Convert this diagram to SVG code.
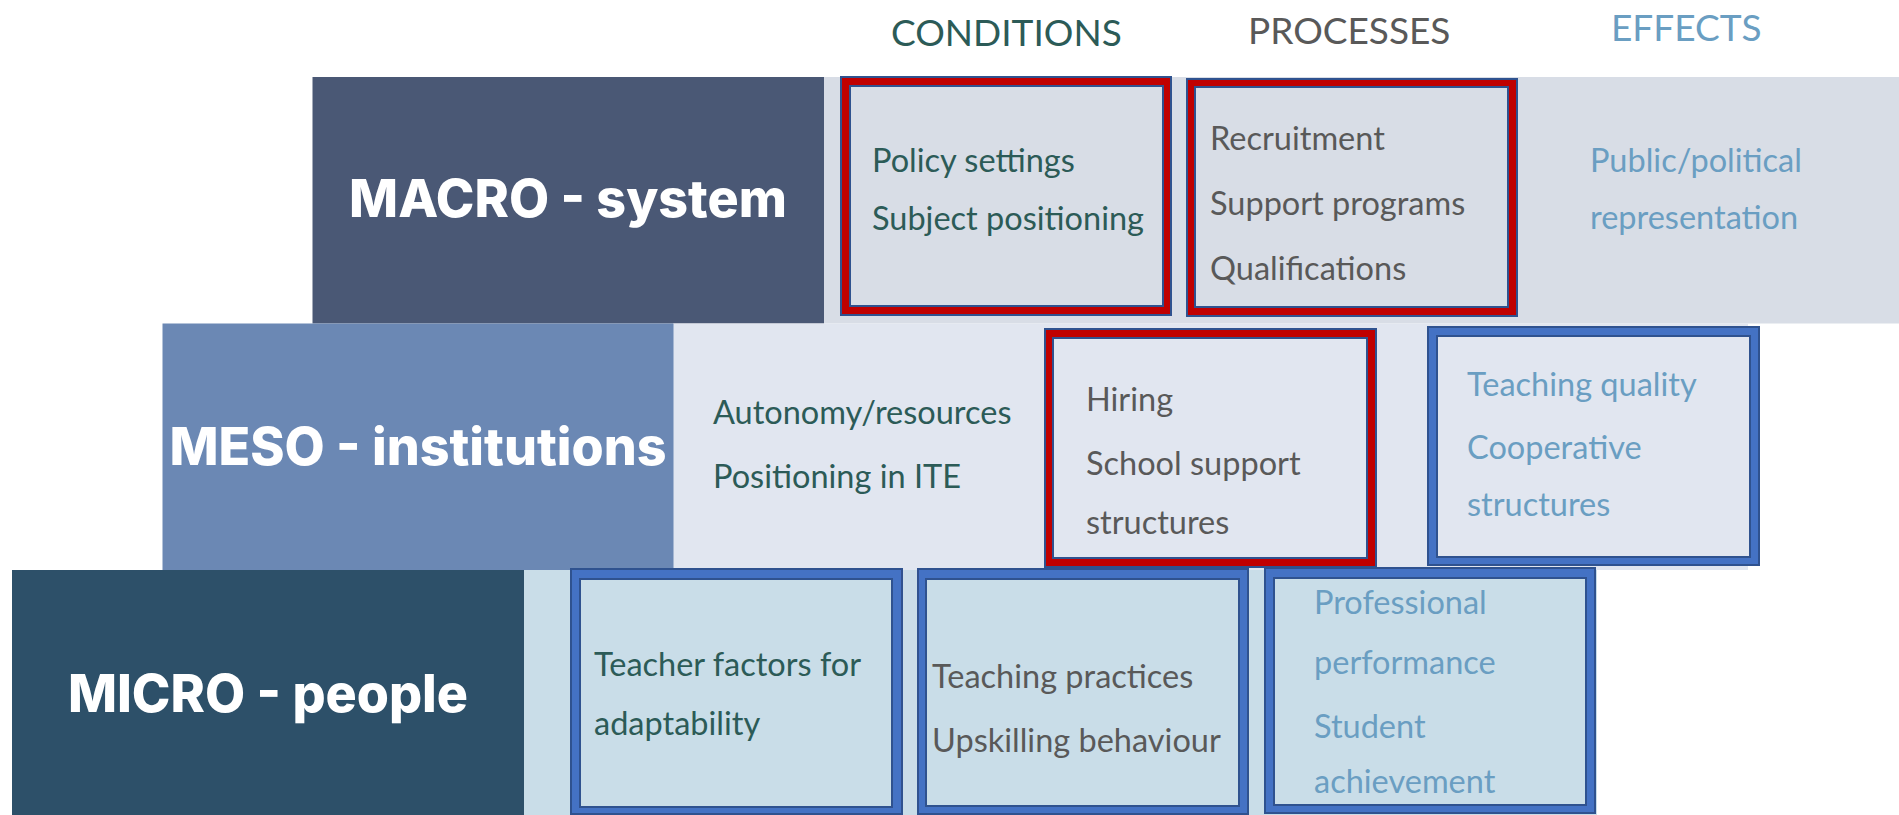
<svg xmlns="http://www.w3.org/2000/svg" width="1899" height="815" viewBox="0 0 1899 815">
  <style>
    .level { font-family: Inter, "Open Sans", "DejaVu Sans", sans-serif; font-weight: 800; font-size: 52px; fill: #ffffff; text-anchor: middle; }
    .head { font-family: Lato, "Liberation Sans", sans-serif; font-weight: 400; font-size: 37px; }
    .item { font-family: Lato, "Liberation Sans", sans-serif; font-weight: 400; font-size: 32.5px; }
    .cond { fill: #2c5b57; }
    .proc { fill: #595959; }
    .eff { fill: #6a9ec2; }
    .edge { fill: none; stroke: #2f528f; stroke-width: 2; }
    .red { fill: #c00000; }
    .blue { fill: #4472c4; }
    .macro-bg { fill: #d8dde6; }
    .meso-bg { fill: #e1e6f0; }
    .micro-bg { fill: #c9dde8; }
  </style>

  <rect x="0" y="0" width="1899" height="815" fill="#ffffff"/>

  <!-- column headings -->
  <g id="headings">
    <text class="head cond" x="891" y="46">CONDITIONS</text>
    <text class="head proc" x="1248" y="44">PROCESSES</text>
    <text class="head eff" x="1611" y="41">EFFECTS</text>
  </g>

  <!-- level bands -->
  <g id="macro">
    <rect class="macro-bg" x="824" y="77" width="1075" height="246.5"/>
    <rect x="312.5" y="77" width="511.5" height="246.5" fill="#4a5875"/>
    <text class="level" x="568" y="217">MACRO - system</text>
  </g>
  <g id="meso">
    <rect class="meso-bg" x="673" y="323.5" width="1075" height="246.5"/>
    <rect x="162.5" y="323.5" width="511" height="246.5" fill="#6b88b4"/>
    <text class="level" x="418" y="465">MESO - institutions</text>
  </g>
  <g id="micro">
    <rect class="micro-bg" x="523" y="570" width="1074" height="245"/>
    <rect x="12" y="570" width="512" height="245" fill="#2d5069"/>
    <text class="level" x="268" y="712">MICRO - people</text>
  </g>

  <!-- MACRO boxes -->
  <g id="macro-conditions">
    <rect class="red" x="841" y="77" width="330" height="238"/>
    <rect class="edge" x="841" y="77" width="330" height="238"/>
    <rect class="macro-bg" x="850" y="86" width="313" height="220"/>
    <rect class="edge" x="850" y="86" width="313" height="220"/>
    <text class="item cond" x="872" y="172">Policy settings</text>
    <text class="item cond" x="872" y="230">Subject positioning</text>
  </g>
  <g id="macro-processes">
    <rect class="red" x="1187" y="79" width="330" height="237"/>
    <rect class="edge" x="1187" y="79" width="330" height="237"/>
    <rect class="macro-bg" x="1195" y="87" width="313" height="220"/>
    <rect class="edge" x="1195" y="87" width="313" height="220"/>
    <text class="item proc" x="1210" y="150">Recruitment</text>
    <text class="item proc" x="1210" y="215">Support programs</text>
    <text class="item proc" x="1210" y="280">Qualifications</text>
  </g>
  <g id="macro-effects">
    <text class="item eff" x="1590" y="172">Public/political</text>
    <text class="item eff" x="1590" y="229">representation</text>
  </g>

  <!-- MESO boxes -->
  <g id="meso-conditions">
    <text class="item cond" x="713" y="424">Autonomy/resources</text>
    <text class="item cond" x="713" y="488">Positioning in ITE</text>
  </g>
  <g id="meso-processes">
    <rect class="red" x="1045" y="329" width="331" height="238"/>
    <rect class="edge" x="1045" y="329" width="331" height="238"/>
    <rect class="meso-bg" x="1053" y="338" width="314" height="220"/>
    <rect class="edge" x="1053" y="338" width="314" height="220"/>
    <text class="item proc" x="1086" y="411">Hiring</text>
    <text class="item proc" x="1086" y="475">School support</text>
    <text class="item proc" x="1086" y="534">structures</text>
  </g>
  <g id="meso-effects">
    <rect class="blue" x="1428" y="327" width="331" height="238"/>
    <rect class="edge" x="1428" y="327" width="331" height="238"/>
    <rect class="meso-bg" x="1437" y="336" width="313" height="221"/>
    <rect class="edge" x="1437" y="336" width="313" height="221"/>
    <text class="item eff" x="1467" y="396">Teaching quality</text>
    <text class="item eff" x="1467" y="459">Cooperative</text>
    <text class="item eff" x="1467" y="516">structures</text>
  </g>

  <!-- MICRO boxes -->
  <g id="micro-conditions">
    <rect class="blue" x="571" y="569" width="331" height="245"/>
    <rect class="edge" x="571" y="569" width="331" height="245"/>
    <rect class="micro-bg" x="580" y="579" width="312" height="228"/>
    <rect class="edge" x="580" y="579" width="312" height="228"/>
    <text class="item cond" x="594" y="676">Teacher factors for</text>
    <text class="item cond" x="594" y="735">adaptability</text>
  </g>
  <g id="micro-processes">
    <rect class="blue" x="918" y="569" width="330" height="245"/>
    <rect class="edge" x="918" y="569" width="330" height="245"/>
    <rect class="micro-bg" x="926" y="579" width="313" height="227"/>
    <rect class="edge" x="926" y="579" width="313" height="227"/>
    <text class="item proc" x="932" y="688">Teaching practices</text>
    <text class="item proc" x="932" y="752">Upskilling behaviour</text>
  </g>
  <g id="micro-effects">
    <rect class="blue" x="1265" y="568" width="330" height="245"/>
    <rect class="edge" x="1265" y="568" width="330" height="245"/>
    <rect class="micro-bg" x="1274" y="578" width="312" height="227"/>
    <rect class="edge" x="1274" y="578" width="312" height="227"/>
    <text class="item eff" x="1314" y="614">Professional</text>
    <text class="item eff" x="1314" y="674">performance</text>
    <text class="item eff" x="1314" y="738">Student</text>
    <text class="item eff" x="1314" y="793">achievement</text>
  </g>
</svg>
